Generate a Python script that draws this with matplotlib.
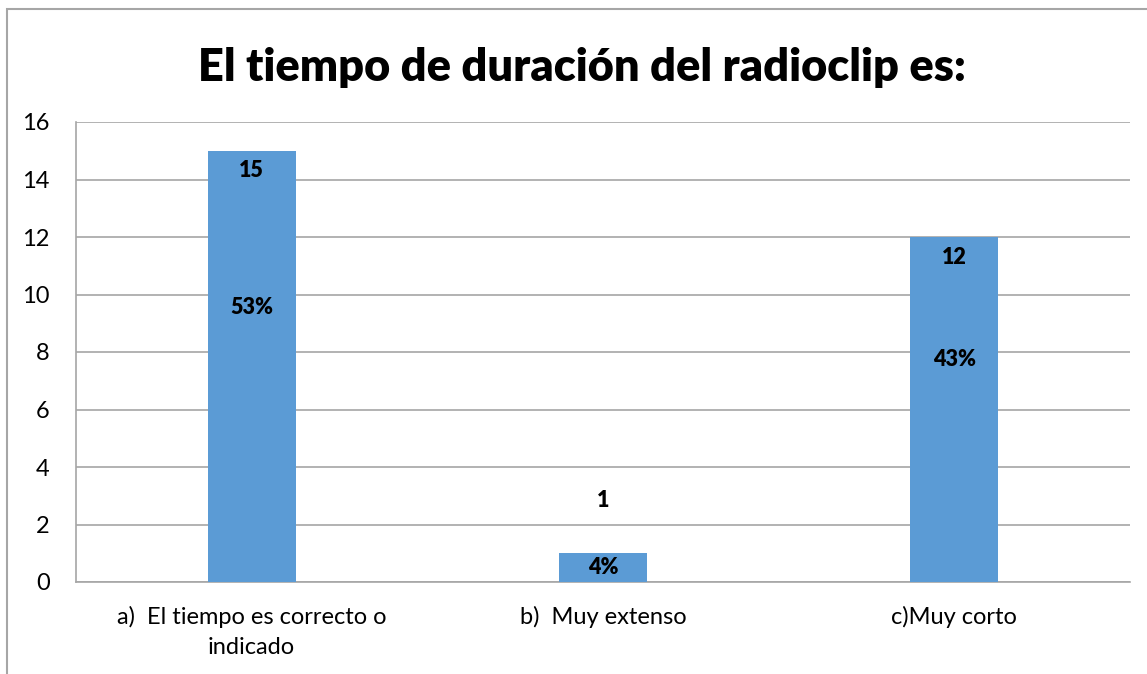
import matplotlib.pyplot as plt
from matplotlib.patches import Rectangle

categories = ["a)  El tiempo es correcto o\nindicado", "b)  Muy extenso", "c)Muy corto"]
counts = [15, 1, 12]
percent_labels = ["53%", "4%", "43%"]
count_label_y = [14.3, 2.85, 11.3]
percent_label_y = [9.55, 0.52, 7.75]

plt.rcParams['font.family'] = ['Lato', 'DejaVu Sans']

fig = plt.figure(figsize=(11.47, 6.74), dpi=100)
ax = fig.add_axes([76/1147, 1 - 582/674, (1130-76)/1147, 460/674])

x = list(range(len(categories)))
ax.bar(x, counts, width=0.25, color='#5B9BD5', zorder=3)

for i in x:
    ax.text(i, count_label_y[i], str(counts[i]), ha='center', va='center',
            fontsize=15.5, fontweight='heavy', color='black', zorder=4)
    ax.text(i, percent_label_y[i], percent_labels[i], ha='center', va='center',
            fontsize=15.5, fontweight='heavy', color='black', zorder=4)

ax.set_xlim(-0.5, 2.5)
ax.set_ylim(0, 16)
ax.set_yticks(range(0, 17, 2))
ax.set_xticks(x)
ax.set_xticklabels(categories, fontsize=17, linespacing=1.55)
ax.tick_params(axis='y', length=0, labelsize=17, pad=19)
ax.tick_params(axis='x', length=0, pad=17)
ax.grid(axis='y', color='#A6A6A6', linewidth=1.2, zorder=0)
for s in ['top', 'right']:
    ax.spines[s].set_visible(False)
for s in ['left', 'bottom']:
    ax.spines[s].set_color('#A6A6A6')
    ax.spines[s].set_linewidth(1.2)

fig.text(0.507, 1 - 67/674, "El tiempo de duración del radioclip es:", ha='center', va='center',
         fontsize=32.5, fontweight='heavy')

# outer chart border
fig.patches.append(Rectangle((7/1147, -0.1), 1.2, 1 - 9/674 + 0.1, transform=fig.transFigure,
                             fill=False, edgecolor='#A6A6A6', linewidth=1.5))

fig.savefig('out.png', dpi=100)
